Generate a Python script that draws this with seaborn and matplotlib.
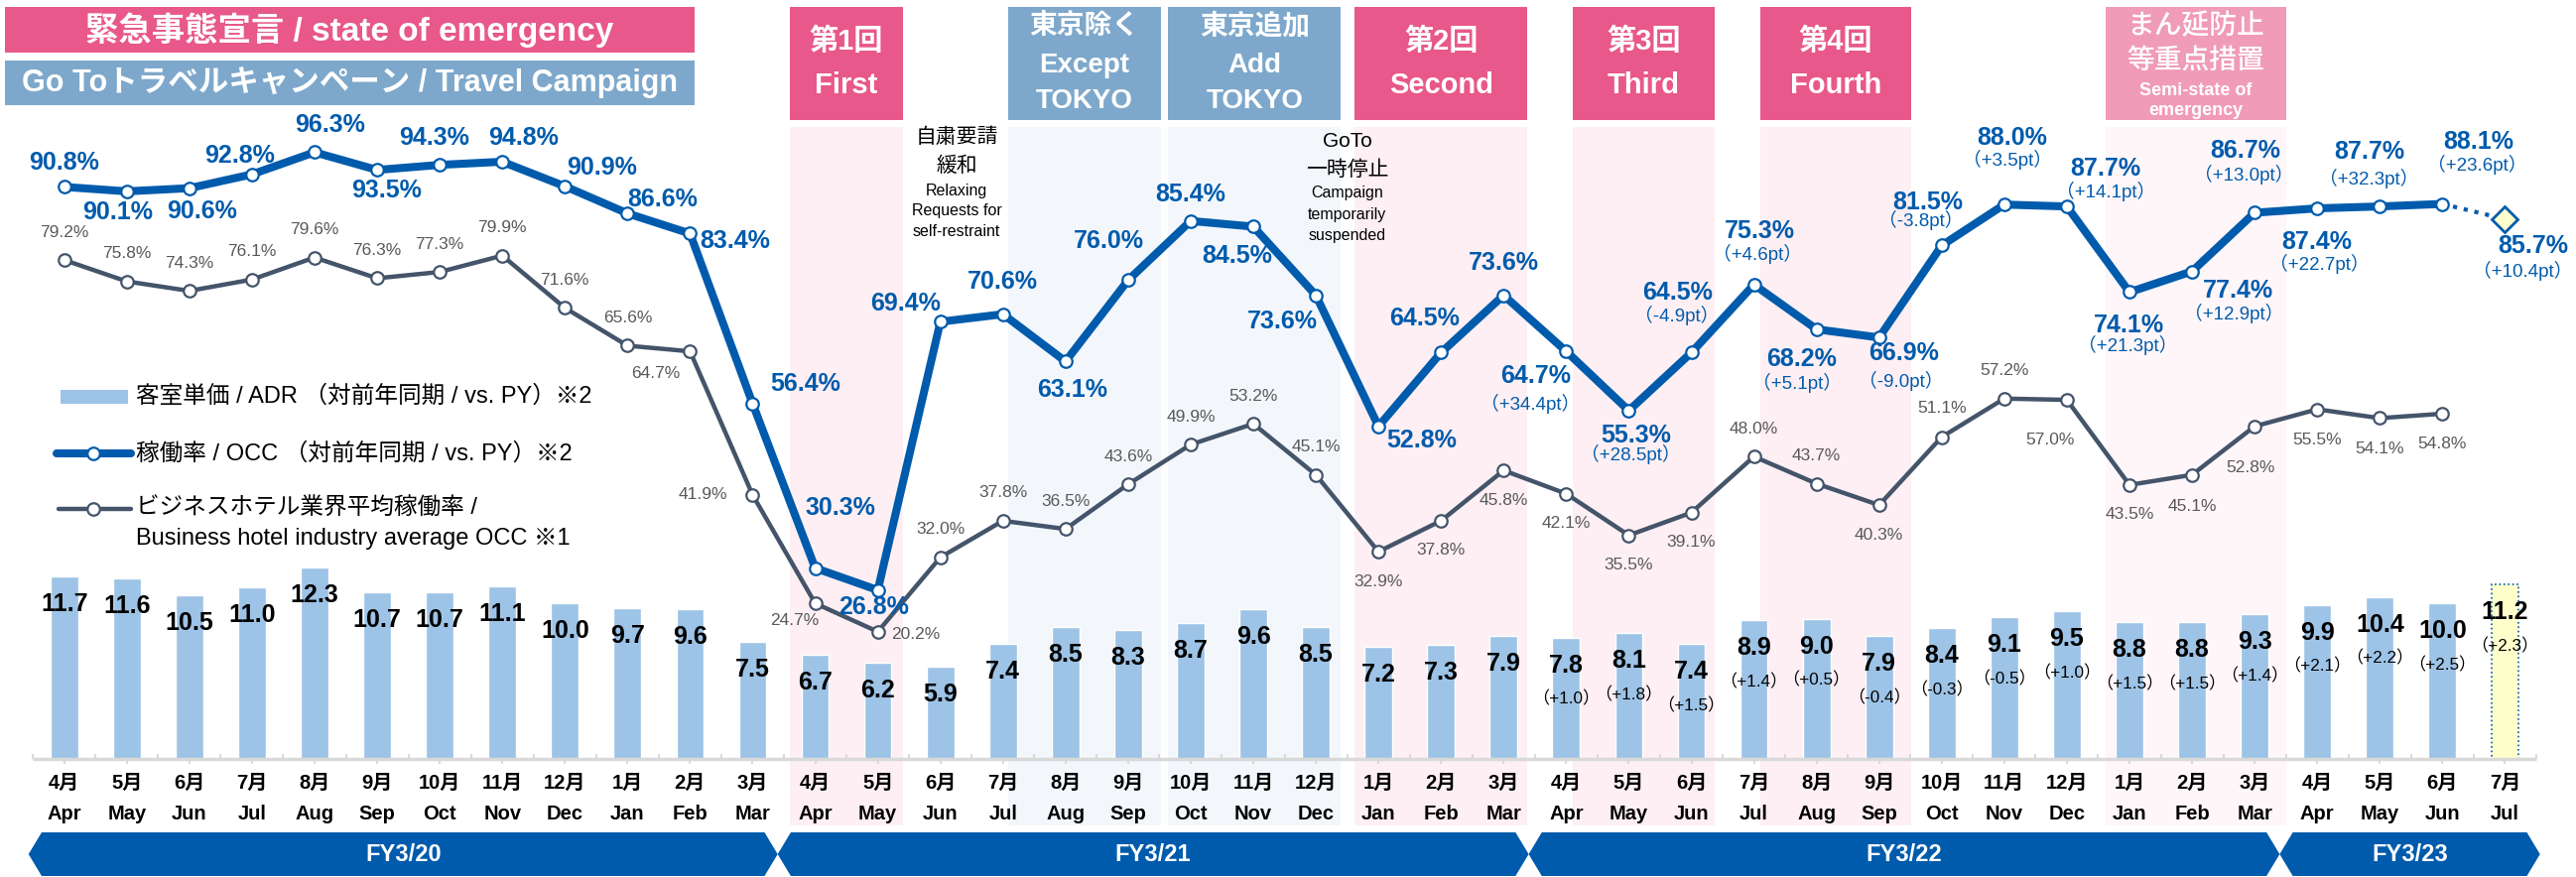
import numpy as np
import pandas as pd
import matplotlib
matplotlib.use("Agg")
import matplotlib.pyplot as plt
from matplotlib.patches import Rectangle, Polygon
from matplotlib.lines import Line2D
import seaborn as sns

# ---------------- data ----------------
month_jp = ["4月", "5月", "6月", "7月", "8月", "9月", "10月", "11月", "12月", "1月", "2月", "3月"] * 3 + ["4月", "5月", "6月", "7月"]
month_en = ["Apr", "May", "Jun", "Jul", "Aug", "Sep", "Oct", "Nov", "Dec", "Jan", "Feb", "Mar"] * 3 + ["Apr", "May", "Jun", "Jul"]
fiscal_years = ["FY3/20", "FY3/21", "FY3/22", "FY3/23"]
fy_months = [12, 12, 12, 4]

# ADR (thousand yen)
adr = [11.7, 11.6, 10.5, 11.0, 12.3, 10.7, 10.7, 11.1, 10.0, 9.7, 9.6, 7.5,
       6.7, 6.2, 5.9, 7.4, 8.5, 8.3, 8.7, 9.6, 8.5, 7.2, 7.3, 7.9,
       7.8, 8.1, 7.4, 8.9, 9.0, 7.9, 8.4, 9.1, 9.5, 8.8, 8.8, 9.3,
       9.9, 10.4, 10.0, 11.2]
# ADR vs. PY, from FY3/22 Apr on
adr_delta = ["+1.0", "+1.8", "+1.5", "+1.4", "+0.5", "-0.4", "-0.3", "-0.5",
             "+1.0", "+1.5", "+1.5", "+1.4", "+2.1", "+2.2", "+2.5", "+2.3"]

# OCC (%)
occ = [90.8, 90.1, 90.6, 92.8, 96.3, 93.5, 94.3, 94.8, 90.9, 86.6, 83.4, 56.4,
       30.3, 26.8, 69.4, 70.6, 63.1, 76.0, 85.4, 84.5, 73.6, 52.8, 64.5, 73.6,
       64.7, 55.3, 64.5, 75.3, 68.2, 66.9, 81.5, 88.0, 87.7, 74.1, 77.4, 86.7,
       87.4, 87.7, 88.1]
occ_forecast = 85.7
occ_delta = ["+34.4", "+28.5", "-4.9", "+4.6", "+5.1", "-9.0", "-3.8", "+3.5",
             "+14.1", "+21.3", "+12.9", "+13.0", "+22.7", "+32.3", "+23.6", "+10.4"]

# business hotel industry average OCC (%)
hotel = [79.2, 75.8, 74.3, 76.1, 79.6, 76.3, 77.3, 79.9, 71.6, 65.6, 64.7, 41.9,
         24.7, 20.2, 32.0, 37.8, 36.5, 43.6, 49.9, 53.2, 45.1, 32.9, 37.8, 45.8,
         42.1, 35.5, 39.1, 48.0, 43.7, 40.3, 51.1, 57.2, 57.0, 43.5, 45.1, 52.8,
         55.5, 54.1, 54.8]

# periods (in month index)
event_text = [["第1回", "First"], ["東京除く", "Except", "TOKYO"], ["東京追加", "Add", "TOKYO"],
              ["第2回", "Second"], ["第3回", "Third"], ["第4回", "Fourth"],
              ["まん延防止", "等重点措置", "Semi-state of", "emergency"]]
event_kind = ["soe", "goto", "goto", "soe", "soe", "soe", "semi"]
event_from = [11.60, 15.09, 17.64, 20.62, 24.11, 27.10, 32.62]
event_to = [13.40, 17.52, 20.40, 23.38, 26.37, 29.51, 35.50]

note_at = [14.26, 20.5]
note_text = [["自粛要請", "緩和", "Relaxing", "Requests for", "self-restraint"],
             ["GoTo", "一時停止", "Campaign", "temporarily", "suspended"]]

# ---------------- style ----------------
sns.set_theme(style="white")
plt.rcParams["font.family"] = ["Liberation Sans", "Noto Sans CJK JP"]

BLUE = "#005BAC"
SLATE = "#44546A"
BAR = "#9DC3E6"
FC = "#FFFFCC"
BOX = {"soe": "#E8588A", "goto": "#7EA8CB", "semi": "#F09BB8"}
BAND = {"soe": "#FDEFF3", "goto": "#F3F7FC", "semi": "#FEF6F9"}

W, H = 2596, 884
def fy(px):
    return 1 - px / H
def fx(px):
    return px / W

# label offsets in pixels (dx, dy downward)
occ_off = [(0, -24), (-9, 21), (13, 23), (-12, -19), (16, -27), (10, 21), (-6, -27), (21, -24),
           (37, -19), (35, -14), (45, 8), (53, -20), (25, -61), (-4, 17), (-35, -18), (0, -33),
           (7, 29), (-20, -39), (0, -27), (-16, 30), (-34, 26), (44, 14), (-17, -34), (0, -33),
           (-31, 25), (7, 25), (-14, -60), (6, -54), (-15, 30), (25, 16), (-14, -43), (8, -67),
           (39, -38), (-1, 34), (46, 19), (-9, -62), (0, 34), (-10, -55), (36, -63), (28, 27)]
occ_delta_off = [(-36, 53), (2, 44), (-15, -37), (3, -31), (-20, 54), (22, 44), (-21, -25), (3, -45),
                 (39, -15), (-2, 54), (42, 42), (-11, -38), (2, 56), (-11, -28), (35, -40), (18, 52)]
hotel_off = [(0, -28)] * 10 + [(-35, 22), (-50, 0), (-21, 17), (38, 3)] + [(0, -28)] * 7 + \
            [(0, 30)] * 6 + [(0, -28), (0, -28), (0, 30), (0, -29), (0, -28), (-17, 40),
                             (0, 30), (0, 32), (-4, 42), (0, 31), (0, 31), (0, 30)]

fig = plt.figure(figsize=(W / 100, H / 100), dpi=100)
ax = fig.add_axes([0, 0, 1, 1])
n = len(adr)
x = np.arange(n)

# bars
df_bar = pd.DataFrame({"m": x, "adr": adr})
sns.barplot(data=df_bar, x="m", y="adr", color=BAR, saturation=1, width=0.44, ax=ax, zorder=2)
last = ax.patches[-1]
last.set_facecolor(FC)
last.set_edgecolor(BLUE)
last.set_linestyle(":")
last.set_linewidth(1.2)

ax2 = ax.twinx()
ax.set_xlim(-1.026, 40.135)
ax.set_ylim(-119 / 15.7, 765 / 15.7)
ax.axis("off")
xt = ax.get_xaxis_transform()

# period bands and header boxes
for txt, kind, s, e in zip(event_text, event_kind, event_from, event_to):
    ax.axvspan(s, e, ymin=fy(832), ymax=fy(128), color=BAND[kind], lw=0, zorder=0)
    ax.add_patch(Rectangle((s, fy(121)), e - s, fy(7) - fy(121), transform=xt,
                           color=BOX[kind], lw=0, zorder=1))
    c = (s + e) / 2
    if len(txt) == 2:
        ys, sz, wt = [42, 86], [21, 21], ["bold", "bold"]
    elif len(txt) == 3:
        ys, sz, wt = [27, 66, 102], [20, 20, 20], ["bold"] * 3
    else:
        ys, sz, wt = [27, 62, 92, 111], [20, 20, 13, 13], ["medium", "medium", "bold", "bold"]
    for line, yy, fs, w in zip(txt, ys, sz, wt):
        ax.text(c, fy(yy), line, transform=xt, ha="center", va="center",
                color="white", fontsize=fs, fontweight=w, zorder=3)

# notes
note_y = [[138, 167, 193, 213, 234], [143, 171, 195, 217, 238]]
for xn, lines, ys in zip(note_at, note_text, note_y):
    for k, (line, yy) in enumerate(zip(lines, ys)):
        ax.text(xn, fy(yy), line, transform=xt, ha="center", va="center",
                fontsize=15 if k < 2 else 11.5, color="black", zorder=3)

# baseline axis
ax.hlines(0, -0.5, n - 0.5, color="#D9D9D9", lw=2.5, zorder=3)
ax.vlines(np.arange(n + 1) - 0.5, 0, 0.35, color="#D9D9D9", lw=1.5, zorder=3)
ax.vlines(x, -0.35, 0, color="#D9D9D9", lw=1.5, zorder=3)

# bar labels
d0 = n - len(adr_delta)
for i, v in enumerate(adr):
    ax.annotate(f"{v:.1f}", (i, v), xytext=(0, -28), textcoords="offset pixels",
                ha="center", va="center", fontsize=18, fontweight="bold", color="black", zorder=4)
    if i >= d0:
        ax.annotate(f"（{adr_delta[i - d0]}）", (i, v), xytext=(0, -62), textcoords="offset pixels",
                    ha="center", va="center", fontsize=12.3, color="black", zorder=4)

# month labels
for i in range(n):
    ax.text(i, fy(789), month_jp[i], transform=xt, ha="center", va="center",
            fontsize=14.5, fontweight="bold", color="black")
    ax.text(i, fy(820), month_en[i], transform=xt, ha="center", va="center",
            fontsize=14.5, fontweight="bold", color="black")

# fiscal year arrows
cum = np.cumsum(fy_months)
edges = [-0.57] + [c - 0.6 for c in cum[:-1]] + [n - 0.44]
y0, y1, ym = fy(883), fy(839), fy(861)
for k, fyl in enumerate(fiscal_years):
    a, b, d = edges[k], edges[k + 1], 0.21
    ax.add_patch(Polygon([(a, ym), (a + d, y1), (b - d, y1), (b, ym), (b - d, y0), (a + d, y0)],
                         closed=True, transform=xt, color=BLUE, lw=0, zorder=2))
    ax.text((a + b) / 2, ym, fyl, transform=xt, ha="center", va="center",
            color="white", fontsize=17, fontweight="bold", zorder=3)

# lines
m_occ = x[:len(occ)]
df_line = pd.DataFrame({"m": m_occ, "occ": occ, "hotel": hotel})
sns.lineplot(data=df_line, x="m", y="hotel", ax=ax2, color=SLATE, linewidth=3.2,
             marker="o", markersize=9, markerfacecolor="white", markeredgecolor=SLATE,
             markeredgewidth=1.6, legend=False, zorder=3)
df_fc = pd.DataFrame({"m": [m_occ[-1], n - 1], "occ": [occ[-1], occ_forecast]})
sns.lineplot(data=df_fc, x="m", y="occ", ax=ax2, color=BLUE, linewidth=3, linestyle=":",
             legend=False, zorder=3)
sns.lineplot(data=df_line, x="m", y="occ", ax=ax2, color=BLUE, linewidth=5.8,
             marker="o", markersize=9, markerfacecolor="white", markeredgecolor=BLUE,
             markeredgewidth=1.6, legend=False, zorder=4)
ax2.plot([n - 1], [occ_forecast], marker="D", markersize=13, markerfacecolor=FC,
         markeredgecolor=BLUE, markeredgewidth=2, linestyle="none", zorder=5)
ax2.set_xlim(-1.026, 40.135)
ax2.set_ylim(-119 / 6.35, 765 / 6.35)
ax2.axis("off")

# line labels
for i, v in enumerate(hotel):
    dx, dy = hotel_off[i]
    ax2.annotate(f"{v:.1f}%", (i, v), xytext=(dx, -dy), textcoords="offset pixels",
                 ha="center", va="center", fontsize=12.5, color="#595959", zorder=6)
occ_all = occ + [occ_forecast]
dd0 = len(occ_all) - len(occ_delta)
for i, v in enumerate(occ_all):
    dx, dy = occ_off[i]
    ax2.annotate(f"{v:.1f}%", (i, v), xytext=(dx, -dy), textcoords="offset pixels",
                 ha="center", va="center", fontsize=18, fontweight="bold", color=BLUE, zorder=6)
    if i >= dd0:
        ddx, ddy = occ_delta_off[i - dd0]
        ax2.annotate(f"（{occ_delta[i - dd0]}pt）", (i, v), xytext=(ddx, -ddy),
                     textcoords="offset pixels", ha="center", va="center",
                     fontsize=13.5, color=BLUE, zorder=6)

# top-left headers
fig.add_artist(Rectangle((fx(5), fy(53)), fx(695), 46 / H, color=BOX["soe"], lw=0))
fig.add_artist(Rectangle((fx(5), fy(106)), fx(695), 45 / H, color=BOX["goto"], lw=0))
fig.text(fx(352), fy(30), "緊急事態宣言 / state of emergency", ha="center", va="center",
         color="white", fontsize=24, fontweight="bold")
fig.text(fx(352), fy(83), "Go Toトラベルキャンペーン / Travel Campaign", ha="center", va="center",
         color="white", fontsize=22, fontweight="bold")

# legend
fig.add_artist(Rectangle((fx(61), fy(407)), fx(68), 14 / H, color=BAR, lw=0))
fig.add_artist(Line2D([fx(57), fx(132)], [fy(457)] * 2, color=BLUE, lw=5.8,
                      solid_capstyle="round"))
fig.add_artist(Line2D([fx(94)], [fy(457)], marker="o", markersize=9, markerfacecolor="white",
                      markeredgecolor=BLUE, markeredgewidth=1.6))
fig.add_artist(Line2D([fx(59), fx(132)], [fy(513)] * 2, color=SLATE, lw=3.2))
fig.add_artist(Line2D([fx(94)], [fy(513)], marker="o", markersize=9, markerfacecolor="white",
                      markeredgecolor=SLATE, markeredgewidth=1.6))
leg_txt = [("客室単価 / ADR （対前年同期 / vs. PY）※2", 400),
           ("稼働率 / OCC （対前年同期 / vs. PY）※2", 457),
           ("ビジネスホテル業界平均稼働率 /", 513),
           ("Business hotel industry average OCC ※1", 543)]
for t, yy in leg_txt:
    fig.text(fx(137), fy(yy), t, ha="left", va="center", fontsize=17, color="black")

fig.savefig("out.png", dpi=100, facecolor="white")
